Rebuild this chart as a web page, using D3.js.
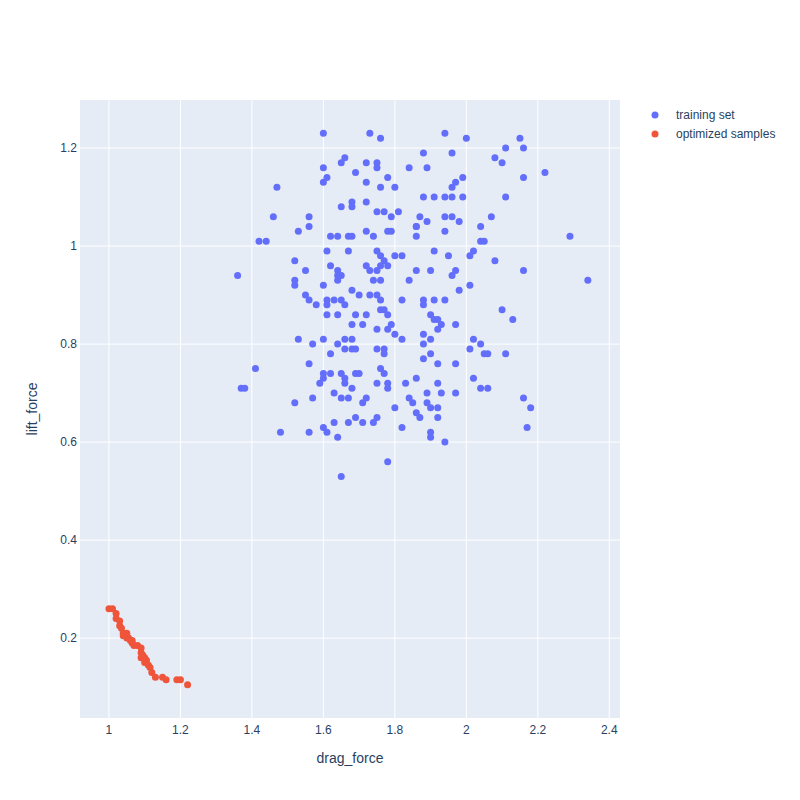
<!DOCTYPE html><html><head><meta charset="utf-8">
<script src="https://cdn.jsdelivr.net/npm/d3@7"></script>
<style>body{margin:0;background:#fff}text{font-family:"Liberation Sans",Arial,sans-serif}</style></head><body>
<svg id="c" width="800" height="800"></svg>
<script>
const trainX=[1.60,1.73,1.76,1.94,2.00,2.15,1.88,1.96,2.08,2.11,2.16,1.65,1.66,1.75,1.75,1.72,1.60,1.69,1.84,1.89,2.10,2.22,2.16,1.47,1.60,1.61,1.72,1.76,1.78,1.80,1.97,1.96,1.99,1.88,1.91,1.94,1.96,1.99,2.11,1.68,1.65,1.68,1.72,1.77,1.79,1.75,1.81,1.46,1.56,1.87,1.94,1.96,1.98,2.07,1.89,1.53,1.56,1.62,1.64,1.67,1.68,1.72,1.74,1.78,1.79,1.86,1.86,1.94,2.04,1.42,1.44,1.86,2.04,2.05,2.29,1.61,1.67,1.75,1.76,1.77,1.80,1.82,1.91,1.95,2.02,2.01,2.08,1.52,1.62,1.64,1.72,1.76,1.78,1.36,1.55,1.64,1.65,1.73,1.75,1.86,1.90,1.97,1.96,2.16,2.34,1.52,1.52,1.60,1.64,1.74,1.76,1.84,1.98,2.01,1.68,1.55,1.56,1.61,1.63,1.65,1.70,1.73,1.75,1.76,1.82,1.88,1.88,1.91,1.94,1.58,1.61,1.66,1.76,1.77,1.90,1.91,2.10,1.61,1.64,1.69,1.72,1.78,1.53,1.57,1.60,1.64,1.66,1.68,1.68,1.71,1.75,1.78,1.79,1.80,1.82,1.93,1.92,1.97,1.92,1.88,1.90,2.02,2.04,2.01,2.05,2.06,2.11,2.13,1.62,1.66,1.68,1.69,1.75,1.77,1.77,1.88,1.90,1.56,1.60,1.60,1.62,1.65,1.66,1.69,1.70,1.76,1.77,1.78,1.86,1.88,1.92,1.97,2.02,2.06,1.41,1.37,1.38,1.59,1.66,1.63,1.68,1.75,1.83,1.92,1.65,1.67,1.72,1.78,1.84,1.85,1.89,1.93,2.04,1.52,1.57,1.71,1.80,1.89,1.90,1.92,1.97,2.16,2.18,1.69,1.75,1.86,1.87,1.92,1.60,1.63,1.67,1.71,1.74,1.82,1.90,1.90,1.61,1.48,1.56,1.64,1.94,2.17,1.78,1.65];
const trainY=[1.23,1.23,1.22,1.23,1.22,1.22,1.19,1.19,1.18,1.20,1.20,1.17,1.18,1.17,1.16,1.17,1.16,1.15,1.16,1.16,1.17,1.15,1.14,1.12,1.13,1.14,1.13,1.12,1.14,1.12,1.13,1.12,1.14,1.10,1.10,1.10,1.10,1.10,1.10,1.08,1.08,1.09,1.09,1.07,1.06,1.07,1.07,1.06,1.06,1.06,1.06,1.06,1.05,1.06,1.05,1.03,1.04,1.02,1.02,1.02,1.02,1.03,1.02,1.03,1.03,1.04,1.04,1.03,1.04,1.01,1.01,1.02,1.01,1.01,1.02,0.99,0.99,0.99,0.98,0.97,0.98,0.98,0.99,0.98,0.99,0.98,0.97,0.97,0.96,0.95,0.96,0.96,0.96,0.94,0.95,0.94,0.94,0.95,0.95,0.95,0.95,0.95,0.94,0.95,0.93,0.93,0.92,0.92,0.93,0.93,0.93,0.93,0.91,0.92,0.91,0.90,0.89,0.89,0.89,0.89,0.90,0.90,0.90,0.89,0.89,0.89,0.88,0.89,0.89,0.88,0.88,0.88,0.87,0.87,0.86,0.85,0.87,0.86,0.86,0.86,0.86,0.86,0.81,0.80,0.81,0.80,0.81,0.81,0.84,0.84,0.83,0.83,0.84,0.82,0.81,0.84,0.85,0.84,0.83,0.82,0.81,0.81,0.80,0.79,0.78,0.78,0.78,0.85,0.78,0.79,0.79,0.79,0.79,0.79,0.78,0.80,0.78,0.76,0.74,0.73,0.74,0.74,0.73,0.74,0.74,0.75,0.74,0.72,0.73,0.77,0.76,0.76,0.73,0.71,0.75,0.71,0.71,0.72,0.72,0.70,0.71,0.72,0.72,0.72,0.69,0.69,0.69,0.71,0.69,0.68,0.70,0.70,0.71,0.68,0.69,0.68,0.67,0.68,0.67,0.67,0.70,0.69,0.67,0.65,0.65,0.66,0.65,0.65,0.63,0.64,0.64,0.64,0.64,0.63,0.62,0.61,0.62,0.62,0.62,0.61,0.60,0.63,0.56,0.53];
const optX=[1.00,1.01,1.02,1.02,1.03,1.03,1.035,1.04,1.04,1.05,1.055,1.06,1.065,1.07,1.08,1.09,1.09,1.09,1.10,1.105,1.11,1.115,1.12,1.13,1.15,1.16,1.19,1.20,1.22,1.065,1.05,1.10,1.095];
const optY=[0.26,0.26,0.25,0.24,0.235,0.225,0.22,0.21,0.205,0.20,0.20,0.195,0.19,0.185,0.185,0.18,0.17,0.16,0.16,0.155,0.145,0.14,0.13,0.12,0.12,0.115,0.115,0.115,0.105,0.195,0.21,0.15,0.165];
const xTicks=[1,1.2,1.4,1.6,1.8,2,2.2,2.4];
const yTicks=[0.2,0.4,0.6,0.8,1,1.2];
const series=[{name:"training set",x:trainX,y:trainY,color:"#636efa"},{name:"optimized samples",x:optX,y:optY,color:"#EF553B"}];

const svg=d3.select("#c");
const L=80,R=620,T=100,B=718;
const x=d3.scaleLinear().domain([0.919,2.43]).range([L,R]);
const y=d3.scaleLinear().domain([0.037,1.298]).range([B,T]);
svg.append("rect").attr("x",L).attr("y",T).attr("width",R-L).attr("height",B-T).attr("fill","#E5ECF6");
const fmt=d3.format("~g");
svg.append("g").selectAll("line").data(xTicks).join("line").attr("x1",d=>x(d)).attr("x2",d=>x(d)).attr("y1",T).attr("y2",B).attr("stroke","#fff");
svg.append("g").selectAll("line").data(yTicks).join("line").attr("y1",d=>y(d)).attr("y2",d=>y(d)).attr("x1",L).attr("x2",R).attr("stroke","#fff");
svg.append("g").selectAll("text").data(xTicks).join("text").attr("x",d=>x(d)).attr("y",B+16).attr("text-anchor","middle").attr("font-size",12).attr("fill","#2a3f5f").text(fmt);
svg.append("g").selectAll("text").data(yTicks).join("text").attr("x",L-3).attr("y",d=>y(d)+4).attr("text-anchor","end").attr("font-size",12).attr("fill","#2a3f5f").text(fmt);
svg.append("text").attr("x",(L+R)/2).attr("y",763).attr("text-anchor","middle").attr("font-size",14).attr("fill","#2a3f5f").text("drag_force");
svg.append("text").attr("transform",`translate(37,${(T+B)/2}) rotate(-90)`).attr("text-anchor","middle").attr("font-size",14).attr("fill","#2a3f5f").text("lift_force");
svg.append("clipPath").attr("id","cp").append("rect").attr("x",L).attr("y",T).attr("width",R-L).attr("height",B-T);
series.forEach(s=>{
  svg.append("g").attr("clip-path","url(#cp)").selectAll("circle").data(s.x.map((v,i)=>[v,s.y[i]])).join("circle")
   .attr("cx",d=>x(d[0])).attr("cy",d=>y(d[1])).attr("r",3.5).attr("fill",s.color);
});
const lg=svg.append("g");
series.forEach((s,i)=>{
  lg.append("circle").attr("cx",655).attr("cy",115+i*19).attr("r",3.5).attr("fill",s.color);
  lg.append("text").attr("x",676).attr("y",119+i*19).attr("font-size",12).attr("fill","#2a3f5f").text(s.name);
});
</script></body></html>
